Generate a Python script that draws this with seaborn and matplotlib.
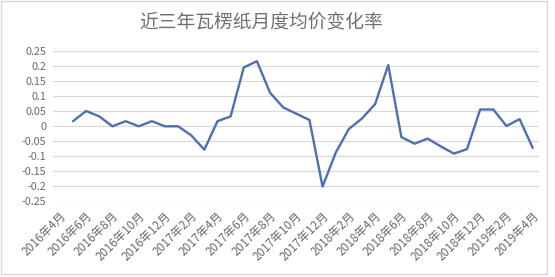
import matplotlib
matplotlib.use("Agg")
import matplotlib.pyplot as plt
import matplotlib.transforms as mtrans
import seaborn as sns
import pandas as pd
import numpy as np
from matplotlib.patches import Rectangle

# ---- data ----
title = "近三年瓦楞纸月度均价变化率"
months = [f"{2016 + (3 + i) // 12}年{(3 + i) % 12 + 1}月" for i in range(37)]
rates = [np.nan,
         0.017, 0.051, 0.033, 0.0, 0.017, 0.0, 0.017, 0.0,
         0.0, -0.030, -0.078, 0.017, 0.033, 0.196, 0.217, 0.112,
         0.063, 0.042, 0.021, -0.201, -0.088, -0.009, 0.026, 0.074,
         0.204, -0.036, -0.058, -0.041, -0.067, -0.091, -0.076, 0.056,
         0.056, 0.001, 0.024, -0.072]
yticks = [0.25, 0.2, 0.15, 0.1, 0.05, 0, -0.05, -0.1, -0.15, -0.2, -0.25]
ytick_labels = ["0.25", "0.2", "0.15", "0.1", "0.05", "0", "-0.05", "-0.1", "-0.15", "-0.2", "-0.25"]

df = pd.DataFrame({"pos": range(len(months)), "month": months, "rate": rates})

sns.set_theme(style="white")
plt.rcParams['font.family'] = ['Noto Sans CJK SC', 'DejaVu Sans']
plt.rcParams['axes.unicode_minus'] = False

W, H = 555, 277
fig = plt.figure(figsize=(W / 100, H / 100), dpi=100)
ax = fig.add_axes([53.3 / W, 1 - 201.3 / H, (539.3 - 53.3) / W, 150 / H])

sns.lineplot(data=df.dropna(), x="pos", y="rate", ax=ax, color="#4E70AE", linewidth=1.7)

ax.set_xlim(-0.5, len(months) - 0.5)
ax.set_ylim(-0.25, 0.25)
ax.set_yticks(yticks)
ax.set_yticklabels(ytick_labels)
ax.set_xticks(df["pos"][::2])
ax.set_xticklabels(df["month"][::2], rotation=45, ha="right", va="center",
                   rotation_mode="anchor")
ax.set_xlabel("")
ax.set_ylabel("")
ax.grid(axis="y", color="#d9d9d9", linewidth=0.9)
ax.grid(axis="x", visible=False)
for s in ax.spines.values():
    s.set_visible(False)
ax.tick_params(axis="y", length=0, pad=5, labelsize=7.8, colors="#6a6a6a")
ax.tick_params(axis="x", length=0, pad=9, labelsize=8.5, colors="#6a6a6a")

offset = mtrans.ScaledTranslation(4 / 100, 0, fig.dpi_scale_trans)
for lbl in ax.get_xticklabels():
    lbl.set_transform(lbl.get_transform() + offset)

fig.text(261 / W, 1 - 22 / H, title, ha="center", va="center", fontsize=13.5, color="#707070")

fig.patches.append(Rectangle((1 / W, 3 / H), 546 / W, 273 / H, transform=fig.transFigure,
                             fill=False, edgecolor="#d9d9d9", linewidth=1))

fig.savefig("out.png", dpi=100, facecolor="white")
